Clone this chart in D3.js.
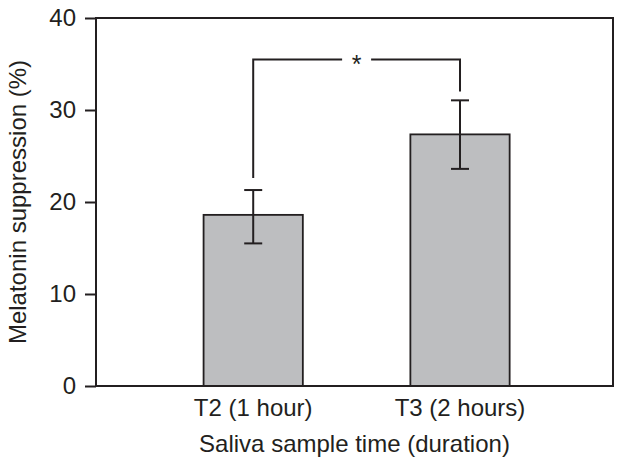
<!DOCTYPE html>
<html>
<head>
<meta charset="utf-8">
<script src="https://cdn.jsdelivr.net/npm/d3@7"></script>
<style>
  html, body { margin: 0; padding: 0; background: #fff; }
  svg { display: block; }
  text { font-family: "Liberation Sans", Arial, Helvetica, sans-serif; fill: #231f20; }
</style>
</head>
<body>
<script>
const categories = ["T2 (1 hour)", "T3 (2 hours)"];
const means = [18.6, 27.35];
const errLow = [15.5, 23.6];
const errHigh = [21.3, 31.05];
const yTicks = [0, 10, 20, 30, 40];
const yLabel = "Melatonin suppression (%)";
const xLabel = "Saliva sample time (duration)";
const sigTop = 35.5;
const sigLegBottom = [22.6, 32.0];
const sigMark = "*";

const W = 623, H = 465;
const ink = "#231f20";
const fs = 24;
const m = { left: 96, right: 10, top: 18, bottom: 79 };

const svg = d3.select("body").append("svg").attr("width", W).attr("height", H);

const x = d3.scaleBand().domain(categories)
  .range([m.left, W - m.right]).paddingInner(0.52).paddingOuter(0.51).align(0.51);
const y = d3.scaleLinear().domain([0, 40]).range([H - m.bottom, m.top]);

// bars
svg.selectAll("rect.bar").data(categories).join("rect")
  .attr("class", "bar")
  .attr("x", d => x(d))
  .attr("y", (d, i) => y(means[i]))
  .attr("width", x.bandwidth())
  .attr("height", (d, i) => y(0) - y(means[i]))
  .attr("fill", "#bdbec0")
  .attr("stroke", ink)
  .attr("stroke-width", 1.8);

// error bars
const cap = 9;
categories.forEach((c, i) => {
  const cx = x(c) + x.bandwidth() / 2;
  svg.append("line").attr("x1", cx).attr("x2", cx)
    .attr("y1", y(errLow[i])).attr("y2", y(errHigh[i]))
    .attr("stroke", ink).attr("stroke-width", 2);
  [errLow[i], errHigh[i]].forEach(v => {
    svg.append("line").attr("x1", cx - cap).attr("x2", cx + cap)
      .attr("y1", y(v)).attr("y2", y(v))
      .attr("stroke", ink).attr("stroke-width", 2);
  });
});

// significance bracket
const c0 = x(categories[0]) + x.bandwidth() / 2;
const c1 = x(categories[1]) + x.bandwidth() / 2;
const mid = (c0 + c1) / 2;
const gap = 14.5;
svg.append("path")
  .attr("d", `M${c0},${y(sigLegBottom[0])}V${y(sigTop)}H${mid - gap}`)
  .attr("fill", "none").attr("stroke", ink).attr("stroke-width", 2);
svg.append("path")
  .attr("d", `M${mid + gap},${y(sigTop)}H${c1}V${y(sigLegBottom[1])}`)
  .attr("fill", "none").attr("stroke", ink).attr("stroke-width", 2);
svg.append("text").attr("x", mid).attr("y", y(sigTop) + 14)
  .attr("text-anchor", "middle").attr("font-size", 25).text(sigMark);

// frame
svg.append("rect").attr("x", m.left).attr("y", m.top)
  .attr("width", W - m.right - m.left).attr("height", y(0) - m.top)
  .attr("fill", "none").attr("stroke", ink).attr("stroke-width", 2);

// y axis
const yAxis = svg.append("g").attr("transform", `translate(${m.left},0)`)
  .call(d3.axisLeft(y).tickValues(yTicks).tickSize(11).tickPadding(9));
yAxis.select(".domain").remove();
yAxis.selectAll(".tick line").attr("stroke", ink).attr("stroke-width", 2);
yAxis.selectAll(".tick text").attr("font-size", fs).attr("fill", ink)
  .attr("font-family", '"Liberation Sans", Arial, sans-serif');

// x category labels
svg.selectAll("text.xl").data(categories).join("text")
  .attr("class", "xl")
  .attr("x", d => x(d) + x.bandwidth() / 2)
  .attr("y", 416)
  .attr("text-anchor", "middle").attr("font-size", fs).text(d => d);

// axis titles
svg.append("text").attr("x", (m.left + W - m.right) / 2).attr("y", 452)
  .attr("text-anchor", "middle").attr("font-size", fs).text(xLabel);
svg.append("text").attr("transform", `translate(26,${(18 + 386) / 2}) rotate(-90)`)
  .attr("text-anchor", "middle").attr("font-size", fs).text(yLabel);
</script>
</body>
</html>
